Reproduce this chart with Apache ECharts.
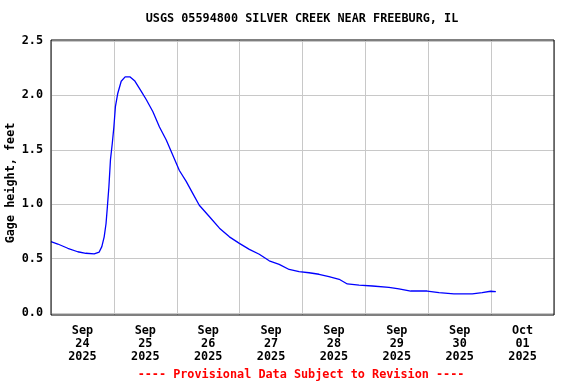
<!DOCTYPE html>
<html>
<head>
<meta charset="utf-8">
<script src="https://cdn.jsdelivr.net/npm/echarts@6/dist/echarts.min.js"></script>
<style>html,body{margin:0;padding:0;background:#fff}#c{width:576px;height:384px}</style>
</head>
<body>
<div id="c"></div>
<script>
// Day categories (labels centered on each day)
const dayLabels = ["Sep\n24\n2025","Sep\n25\n2025","Sep\n26\n2025","Sep\n27\n2025","Sep\n28\n2025","Sep\n29\n2025","Sep\n30\n2025","Oct\n01\n2025"];
// Hours since Sep 24 00:00
const hours = [0,2.6,6.4,10.2,13.3,16.5,18.4,19.4,20.3,21,21.5,22.1,22.7,23.4,24.0,24.6,25.5,26.8,28.3,30.2,31.9,34.4,36.4,38.9,41.4,44.0,46.5,49.0,51.6,54.1,56.6,60.5,64.3,68.1,71.9,75.7,79.5,83.3,87.1,90.9,94.7,98.5,102.3,106.1,110,113.1,117.6,122.7,129,132.8,137.3,143.6,148.1,153.8,160.8,164.6,167.8,169.8];
// Gage height, feet
const gage = [0.655,0.634,0.595,0.563,0.549,0.543,0.56,0.61,0.70,0.82,0.97,1.16,1.41,1.56,1.71,1.90,2.02,2.13,2.17,2.17,2.135,2.04,1.96,1.85,1.71,1.59,1.45,1.31,1.21,1.10,0.99,0.885,0.78,0.70,0.64,0.585,0.54,0.48,0.447,0.40,0.38,0.37,0.356,0.334,0.31,0.267,0.257,0.248,0.236,0.221,0.202,0.202,0.187,0.175,0.175,0.187,0.20,0.196];
const yTicks = [0,0.5,1.0,1.5,2.0,2.5];

const FONT = '"DejaVu Sans Mono", monospace';
const FS = 11.8;
const chart = echarts.init(document.getElementById('c'), null, {renderer:'canvas'});
chart.setOption({
  animation: false,
  backgroundColor: '#fff',
  grid: [
    {left: 51, top: 40, width: 503, height: 275, show: true, borderColor: '#000', borderWidth: 1, backgroundColor: 'transparent', containLabel: false, z: 5},
    {left: 51, top: 41, width: 503, height: 272, containLabel: false}
  ],
  xAxis: [
    {type: 'category', gridIndex: 0, data: dayLabels, boundaryGap: true,
     axisLine: {show: false}, axisTick: {show: false},
     splitLine: {show: true, lineStyle: {color: '#c8c8c8', width: 1}},
     axisLabel: {margin: 9, fontFamily: FONT, fontSize: FS, fontWeight: 'bold', color: '#000', lineHeight: 13, interval: 0}},
    {type: 'value', gridIndex: 1, min: 0, max: 192, show: false}
  ],
  yAxis: [
    {type: 'value', gridIndex: 0, show: false, min: 0, max: 1},
    {type: 'value', gridIndex: 1, min: 0, max: 2.5, interval: 0.5,
     axisLine: {show: false}, axisTick: {show: false},
     splitLine: {show: true, lineStyle: {color: '#c8c8c8', width: 1}},
     axisLabel: {margin: 8, fontFamily: FONT, fontSize: FS, fontWeight: 'bold', color: '#000',
       formatter: v => v.toFixed(1)}}
  ],
  series: [{
    type: 'line', xAxisIndex: 1, yAxisIndex: 1,
    data: hours.map((h, i) => [h, gage[i]]),
    showSymbol: false, symbol: 'none',
    lineStyle: {color: '#0000ff', width: 1.3}
  }],
  graphic: [
    {type: 'text', x: 302, y: 19, style: {text: 'USGS 05594800 SILVER CREEK NEAR FREEBURG, IL', font: 'bold ' + FS + 'px ' + FONT, fill: '#000', align: 'center', verticalAlign: 'middle'}},
    {type: 'text', x: 11, y: 183, rotation: Math.PI / 2, style: {text: 'Gage height, feet', font: 'bold ' + FS + 'px ' + FONT, fill: '#000', align: 'center', verticalAlign: 'middle'}},
    {type: 'text', x: 301, y: 375, style: {text: '---- Provisional Data Subject to Revision ----', font: 'bold ' + FS + 'px ' + FONT, fill: '#ff0000', align: 'center', verticalAlign: 'middle'}}
  ]
});
</script>
</body>
</html>
